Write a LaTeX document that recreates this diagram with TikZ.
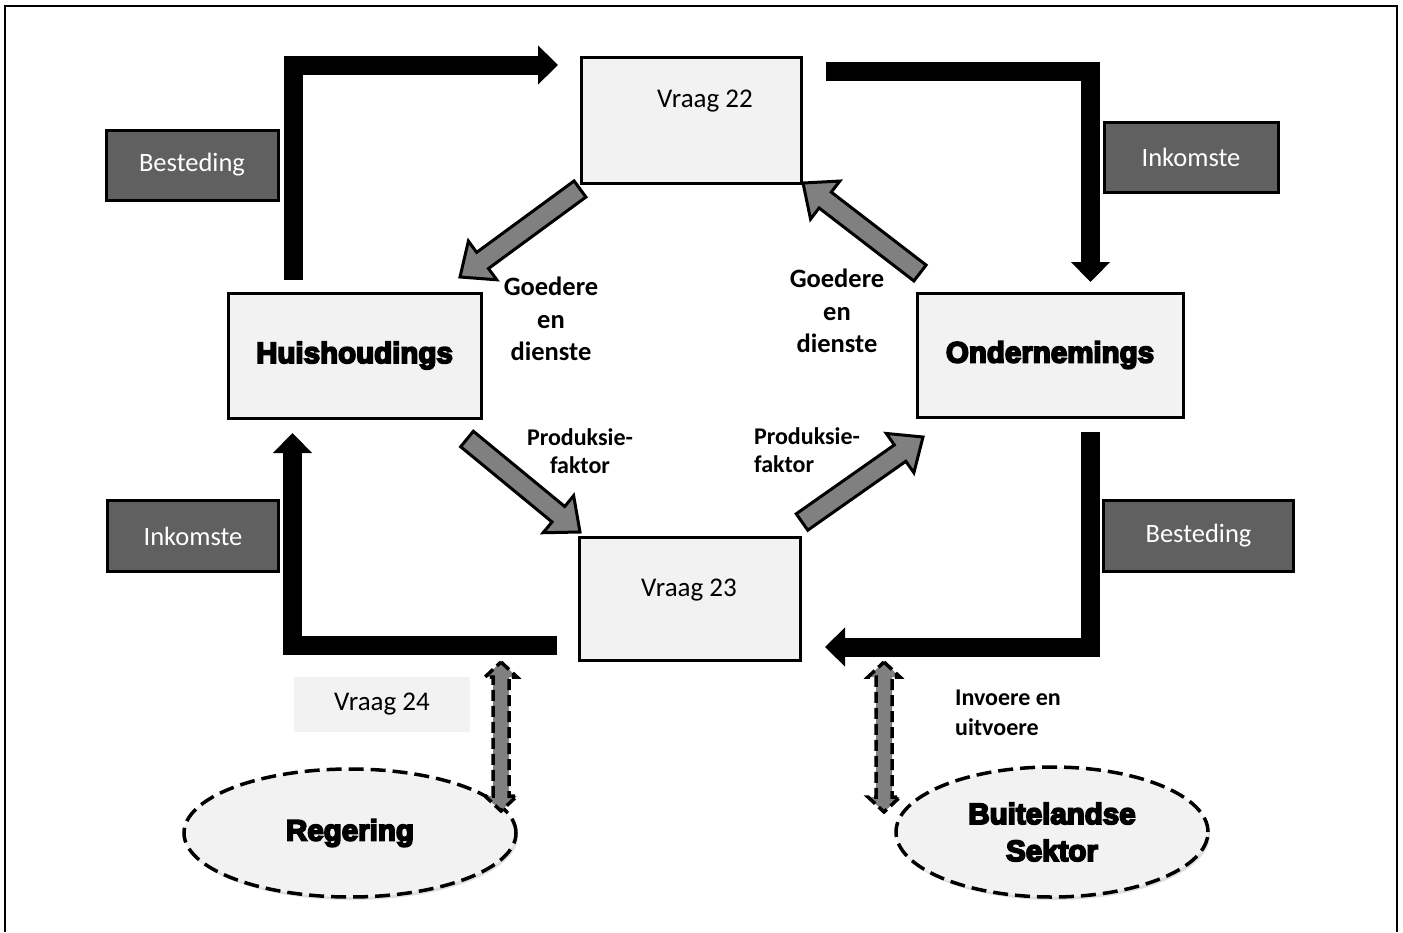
\documentclass[tikz,border=0pt]{standalone}
\usepackage{fontspec}
\setmainfont{Carlito}
\newfontfamily\heavy{Liberation Sans}[UprightFont={* Bold},UprightFeatures={FakeBold=6}]
\usetikzlibrary{arrows.meta,calc,shapes.geometric,shadows}
\definecolor{lightbox}{HTML}{F2F2F2}
\definecolor{darkbox}{HTML}{606060}
\definecolor{arrowgray}{HTML}{808080}
\tikzset{
  lbox/.style={draw=black,line width=3pt,fill=lightbox,inner sep=0pt},
  dbox/.style={draw=black,line width=3pt,fill=darkbox,inner sep=0pt,text=white,font=\fontsize{26.5}{30}\selectfont},
  flow/.style={line width=19pt,line join=miter,-{Triangle[length=20pt,width=38pt]}},
  garrow/.style={draw=black,line width=3pt,fill=arrowgray,line join=miter},
  darrow/.style={draw=black,line width=3.5pt,fill=arrowgray,dash pattern=on 11pt off 5pt},
  sector/.style={ellipse,draw=black,line width=3.5pt,fill=lightbox,dash pattern=on 15pt off 7pt,
     drop shadow={shadow xshift=2pt,shadow yshift=-3pt,opacity=0.25}},
  heavytxt/.style={font=\heavy\fontsize{29.5}{37}\selectfont,align=center},
  lbl/.style={font=\bfseries\fontsize{26.5}{32.5}\selectfont,align=center},
  plbl/.style={font=\bfseries\fontsize{24}{28}\selectfont,align=center},
  ntxt/.style={font=\fontsize{27}{30}\selectfont}
}
% block arrow: #1 tail, #2 tip, #3 shaft half width, #4 head half width, #5 head length
\newcommand{\blockarrow}[5]{%
  \coordinate (bT) at (#1); \coordinate (bP) at (#2);
  \coordinate (bH) at ($(bP)!#5!(bT)$);
  \draw[garrow] ($(bT)!#3!90:(bP)$) -- ($(bH)!#3!-90:(bT)$) -- ($(bH)!#4!-90:(bT)$) -- (bP)
     -- ($(bH)!#4!90:(bT)$) -- ($(bH)!#3!90:(bT)$) -- ($(bT)!#3!-90:(bP)$) -- cycle;}
% double headed dashed arrow
\newcommand{\dblarrow}[5]{%
  \coordinate (dT) at (#1); \coordinate (dP) at (#2);
  \coordinate (dHT) at ($(dT)!#5!(dP)$);
  \coordinate (dHP) at ($(dP)!#5!(dT)$);
  \draw[darrow] (dT) -- ($(dHT)!#4!90:(dP)$) -- ($(dHT)!#3!90:(dP)$) -- ($(dHP)!#3!-90:(dT)$)
     -- ($(dHP)!#4!-90:(dT)$) -- (dP) -- ($(dHP)!#4!90:(dT)$) -- ($(dHP)!#3!90:(dT)$)
     -- ($(dHT)!#3!-90:(dP)$) -- ($(dHT)!#4!-90:(dP)$) -- cycle;}
\begin{document}
\begin{tikzpicture}[x=1pt,y=-1pt]
\useasboundingbox (0,0) rectangle (1403,932);
% frame
\draw[line width=2.5pt] (5,932) -- (5,6) -- (1397,6) -- (1397,932);

% main boxes
\node[lbox,minimum width=220pt,minimum height=126pt] (v22) at (691,120) {};
\node[ntxt] (v22t) at (705,101) {Vraag 22};
\node[lbox,minimum width=221pt,minimum height=123pt] (v23) at (689.5,598.5) {};
\node[ntxt] (v23t) at (689,590) {Vraag 23};
\node[lbox,minimum width=253pt,minimum height=125pt,heavytxt] (hh) at (354.5,355.5) {Huishoudings};
\node[lbox,minimum width=266pt,minimum height=124pt,heavytxt] (on) at (1050,355) {Ondernemings};

% label boxes
\node[dbox,minimum width=172pt,minimum height=70pt] (bes1) at (192,165) {Besteding};
\node[dbox,minimum width=174pt,minimum height=70pt] (ink1) at (1191,157.5) {Inkomste};
\node[dbox,minimum width=171pt,minimum height=71pt] (ink2) at (193,536) {Inkomste};
\node[dbox,minimum width=190pt,minimum height=71pt] (bes2) at (1198.5,536) {Besteding};

\node[fill=lightbox,minimum width=176pt,minimum height=55pt,inner sep=0pt,ntxt] (v24) at (382,704.5) {Vraag 24};

% sectors
\node[sector,minimum width=332pt,minimum height=128pt,heavytxt] (reg) at (350,833) {Regering};
\node[sector,minimum width=312pt,minimum height=130pt,heavytxt] (bui) at (1052,832) {Buitelandse\\Sektor};

% black flow arrows
\coordinate (f1s) at (293,280); \coordinate (f1e) at (558,65);
\draw[flow] (f1s) |- (f1e);
\coordinate (f2s) at (826,71.5); \coordinate (f2e) at (1090.5,282);
\draw[flow] (f2s) -| (f2e);
\coordinate (f3s) at (557,645); \coordinate (f3e) at (292.5,433);
\draw[flow] (f3s) -| (f3e);
\coordinate (f4s) at (1090,432); \coordinate (f4e) at (825,647);
\draw[flow] (f4s) |- (f4e);

% gray block arrows
\coordinate (g1s) at (580,189); \coordinate (g1e) at (460,277);
\blockarrow{g1s}{g1e}{10pt}{24pt}{28pt}
\coordinate (g2s) at (920,273); \coordinate (g2e) at (803,183);
\blockarrow{g2s}{g2e}{10pt}{24pt}{28pt}
\coordinate (g3s) at (467,439); \coordinate (g3e) at (580,532);
\blockarrow{g3s}{g3e}{10pt}{24pt}{28pt}
\coordinate (g4s) at (802,522); \coordinate (g4e) at (923,437);
\blockarrow{g4s}{g4e}{10pt}{24pt}{28pt}

% dashed double arrows
\coordinate (d1s) at (501,662); \coordinate (d1e) at (501,811);
\dblarrow{d1s}{d1e}{8pt}{16pt}{15pt}
\coordinate (d2s) at (884,662); \coordinate (d2e) at (884,812);
\dblarrow{d2s}{d2e}{8pt}{16pt}{15pt}

% labels
\node[lbl] (gd1) at (551,319) {Goedere\\en\\dienste};
\node[lbl] (gd2) at (837,311) {Goedere\\en\\dienste};
\node[plbl] (pf1) at (580,451) {Produksie-\\faktor};
\node[plbl,align=left] (pf2) at (807,450) {Produksie-\\faktor};
\node[plbl,font=\bfseries\fontsize{24}{30}\selectfont,align=left] (iu) at (1008,713) {Invoere en\\uitvoere};
\end{tikzpicture}
\end{document}
